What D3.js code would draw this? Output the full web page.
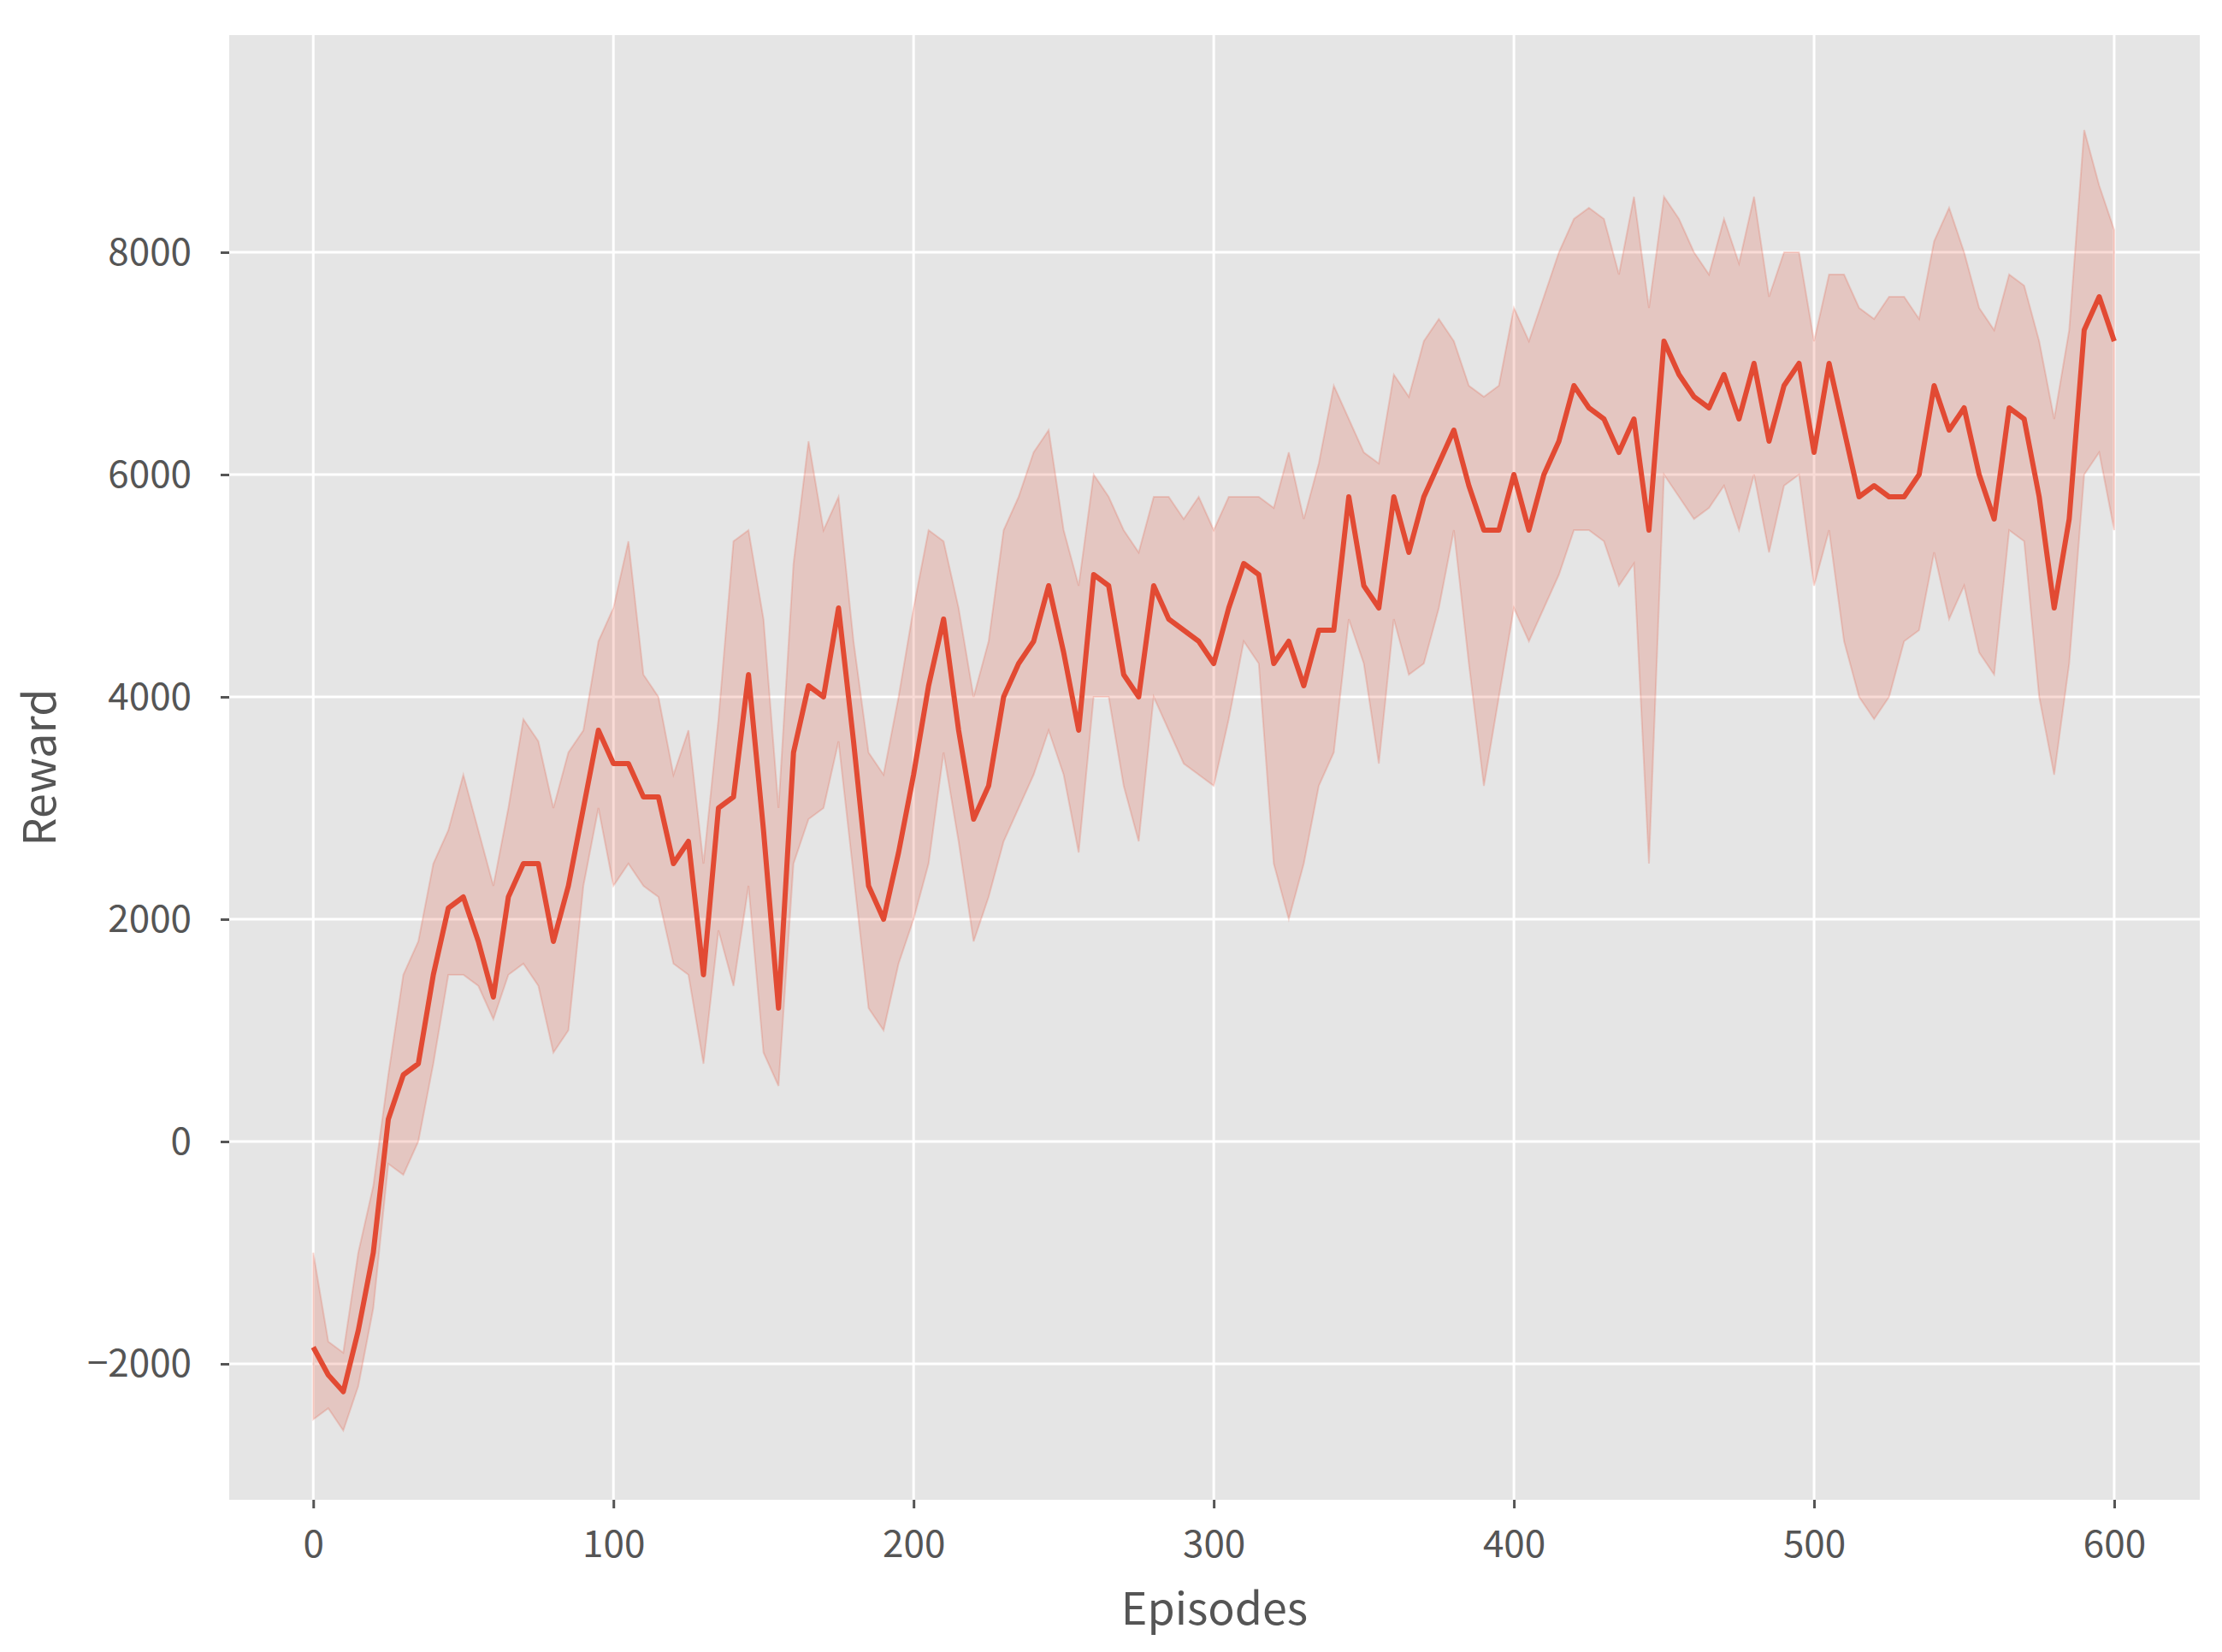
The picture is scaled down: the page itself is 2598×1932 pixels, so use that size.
<!DOCTYPE html><html><head><meta charset="utf-8">
<script src="https://cdn.jsdelivr.net/npm/d3@7"></script>
<style>body{margin:0;background:#fff}</style></head><body>
<svg id="c" width="2598" height="1932"></svg>
<script>
const episodes = d3.range(0, 601, 5);
const meanReward = [-1850,-2100,-2250,-1700,-1000,200,600,700,1500,2100,2200,1800,1300,2200,2500,2500,1800,2300,3000,3700,3400,3400,3100,3100,2500,2700,1500,3000,3100,4200,2800,1200,3500,4100,4000,4800,3600,2300,2000,2600,3300,4100,4700,3700,2900,3200,4000,4300,4500,5000,4400,3700,5100,5000,4200,4000,5000,4700,4600,4500,4300,4800,5200,5100,4300,4500,4100,4600,4600,5800,5000,4800,5800,5300,5800,6100,6400,5900,5500,5500,6000,5500,6000,6300,6800,6600,6500,6200,6500,5500,7200,6900,6700,6600,6900,6500,7000,6300,6800,7000,6200,7000,6400,5800,5900,5800,5800,6000,6800,6400,6600,6000,5600,6600,6500,5800,4800,5600,7300,7600,7200];
const upperReward = [-1000,-1800,-1900,-1000,-400,600,1500,1800,2500,2800,3300,2800,2300,3000,3800,3600,3000,3500,3700,4500,4800,5400,4200,4000,3300,3700,2500,3800,5400,5500,4700,3000,5200,6300,5500,5800,4500,3500,3300,4000,4800,5500,5400,4800,4000,4500,5500,5800,6200,6400,5500,5000,6000,5800,5500,5300,5800,5800,5600,5800,5500,5800,5800,5800,5700,6200,5600,6100,6800,6500,6200,6100,6900,6700,7200,7400,7200,6800,6700,6800,7500,7200,7600,8000,8300,8400,8300,7800,8500,7500,8500,8300,8000,7800,8300,7900,8500,7600,8000,8000,7200,7800,7800,7500,7400,7600,7600,7400,8100,8400,8000,7500,7300,7800,7700,7200,6500,7300,9100,8600,8200];
const lowerReward = [-2500,-2400,-2600,-2200,-1500,-200,-300,0,700,1500,1500,1400,1100,1500,1600,1400,800,1000,2300,3000,2300,2500,2300,2200,1600,1500,700,1900,1400,2300,800,500,2500,2900,3000,3600,2400,1200,1000,1600,2000,2500,3500,2700,1800,2200,2700,3000,3300,3700,3300,2600,4000,4000,3200,2700,4000,3700,3400,3300,3200,3800,4500,4300,2500,2000,2500,3200,3500,4700,4300,3400,4700,4200,4300,4800,5500,4300,3200,4000,4800,4500,4800,5100,5500,5500,5400,5000,5200,2500,6000,5800,5600,5700,5900,5500,6000,5300,5900,6000,5000,5500,4500,4000,3800,4000,4500,4600,5300,4700,5000,4400,4200,5500,5400,4000,3300,4300,6000,6200,5500];
const xTicks = [0,100,200,300,400,500,600];
const yTicks = [-2000,0,2000,4000,6000,8000];

const L=268,R=2572,T=41,B=1754;
const svg=d3.select("#c");
const x=d3.scaleLinear().domain([-28,628.5]).range([L,R]);
const y=d3.scaleLinear().domain([-3223,9954]).range([B,T]);
svg.append("rect").attr("x",L).attr("y",T).attr("width",R-L).attr("height",B-T).attr("fill","#e5e5e5");
const g=svg.append("g");
xTicks.forEach(t=>g.append("line").attr("x1",x(t)).attr("x2",x(t)).attr("y1",T).attr("y2",B).attr("stroke","#fff").attr("stroke-width",3));
yTicks.forEach(t=>g.append("line").attr("y1",y(t)).attr("y2",y(t)).attr("x1",L).attr("x2",R).attr("stroke","#fff").attr("stroke-width",3));
const data=episodes.map((e,i)=>({e,m:meanReward[i],lo:lowerReward[i],hi:upperReward[i]}));
svg.append("path").datum(data).attr("d",d3.area().x(d=>x(d.e)).y0(d=>y(d.lo)).y1(d=>y(d.hi)))
 .attr("fill","#E24A33").attr("fill-opacity",0.2).attr("stroke","#E24A33").attr("stroke-opacity",0.2).attr("stroke-width",2);
svg.append("path").datum(data).attr("d",d3.line().x(d=>x(d.e)).y(d=>y(d.m)))
 .attr("fill","none").attr("stroke","#E24A33").attr("stroke-width",6).attr("stroke-linejoin","round");
const font='"Noto Sans CJK SC", "DejaVu Sans", sans-serif';
const xa=svg.append("g").attr("transform",`translate(0,${B})`).call(d3.axisBottom(x).tickValues(xTicks).tickSize(10).tickPadding(26));
const ya=svg.append("g").attr("transform",`translate(${L},0)`).call(d3.axisLeft(y).tickValues(yTicks).tickSize(10).tickPadding(34).tickFormat(d=>d<0?"\u2212"+(-d):d));
[xa,ya].forEach(a=>{a.select(".domain").remove();a.selectAll("line").attr("stroke","#555").attr("stroke-width",3);
 a.selectAll("text").attr("fill","#555").style("font-family",font).style("font-size","44px");});
svg.append("text").attr("x",(L+R)/2).attr("y",1900).attr("text-anchor","middle").attr("fill","#555")
 .style("font-family",font).style("font-size","52px").text("Episodes");
svg.append("text").attr("transform",`translate(65,${(T+B)/2}) rotate(-90)`).attr("text-anchor","middle").attr("fill","#555")
 .style("font-family",font).style("font-size","52px").text("Reward");
</script></body></html>
